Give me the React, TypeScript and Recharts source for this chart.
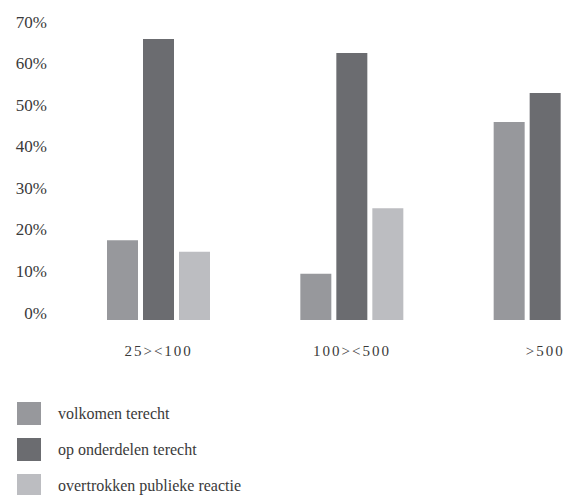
import React from "react";
import { BarChart, Bar, XAxis, YAxis, Legend } from "recharts";

const categories = ["25><100", "100><500", ">500"];
const volkomenTerecht = [19.2, 11.1, 47.6];
const opOnderdelenTerecht = [67.6, 64.2, 54.6];
const overtrokkenReactie = [16.4, 26.9, 0];
const yTicks = [0, 10, 20, 30, 40, 50, 60, 70];

const seriesNames = ["volkomen terecht", "op onderdelen terecht", "overtrokken publieke reactie"];
const seriesColors = ["#97989c", "#6b6c70", "#bcbdc1"];

const data = categories.map((c, i) => ({
  cat: c,
  a: volkomenTerecht[i],
  b: opOnderdelenTerecht[i],
  c: overtrokkenReactie[i],
}));

const FONT = "'Liberation Serif', 'DejaVu Serif', serif";
const TEXT = "#3a3a3a";

const XTick = (props: any) => {
  const { x, y, payload } = props;
  return (
    <text x={x} y={y + 31} textAnchor="middle" dominantBaseline="central"
      fontFamily={FONT} fontSize={15} letterSpacing={2} fill={TEXT}>
      {payload.value}
    </text>
  );
};

const YTick = (props: any) => {
  const { x, y, payload } = props;
  return (
    <text x={x} y={y - 7} textAnchor="end" dominantBaseline="central"
      fontFamily={FONT} fontSize={17} fill={TEXT}>
      {payload.value + "%"}
    </text>
  );
};

const LegendContent = () => (
  <div style={{ fontFamily: FONT, fontSize: 16, color: TEXT }}>
    {seriesNames.map((n, i) => (
      <div key={n} style={{ height: 36, display: "flex", alignItems: "flex-start" }}>
        <div style={{ width: 24, height: 23, background: seriesColors[i], flex: "none" }} />
        <div style={{ marginLeft: 17, lineHeight: "23px", whiteSpace: "nowrap" }}>{n}</div>
      </div>
    ))}
  </div>
);

export default function App() {
  return (
    <div style={{ position: "fixed", left: 8, top: 8, width: 567, height: 487, overflow: "hidden", background: "#fff" }}>
      <BarChart width={640} height={487} data={data}
        margin={{ top: 21, right: 6, left: 0, bottom: 0 }}
        barSize={31} barGap={5}>
        <XAxis dataKey="cat" axisLine={false} tickLine={false} tickSize={0} tickMargin={0}
          height={67} interval={0} tick={<XTick />} />
        <YAxis domain={[0, 70]} ticks={yTicks} axisLine={false} tickLine={false}
          tickSize={0} tickMargin={15} width={54} tick={<YTick />} />
        <Legend verticalAlign="bottom" align="left" content={<LegendContent />}
          wrapperStyle={{ left: 9, bottom: -15, width: 300, height: 108 }} />
        <Bar dataKey="a" name={seriesNames[0]} fill={seriesColors[0]} isAnimationActive={false} />
        <Bar dataKey="b" name={seriesNames[1]} fill={seriesColors[1]} isAnimationActive={false} />
        <Bar dataKey="c" name={seriesNames[2]} fill={seriesColors[2]} isAnimationActive={false} />
      </BarChart>
    </div>
  );
}
